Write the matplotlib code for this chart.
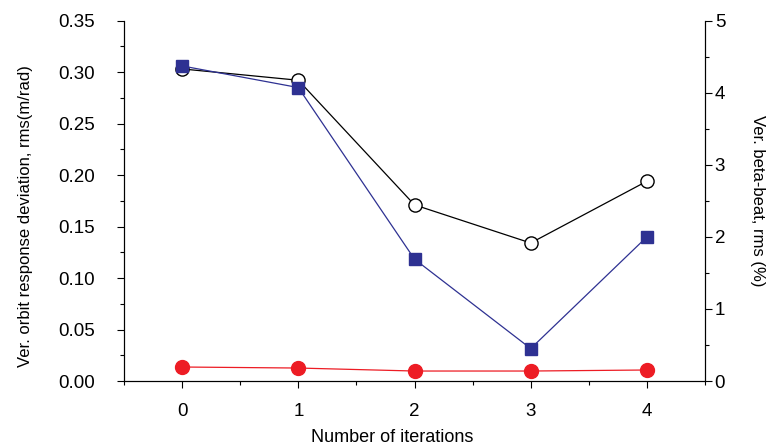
import matplotlib
matplotlib.use("Agg")
import matplotlib.pyplot as plt
from matplotlib.ticker import MultipleLocator

plt.rcParams['font.family'] = ['Liberation Sans', 'DejaVu Sans']

# data
iterations = [0, 1, 2, 3, 4]
orbit_dev = [0.303, 0.292, 0.171, 0.134, 0.194]      # open circles, left axis
other_dev = [0.0136, 0.0126, 0.0097, 0.0097, 0.0107]  # red dots, left axis
beta_beat = [4.37, 4.07, 1.69, 0.45, 2.0]            # blue squares, right axis (%)

fig = plt.figure(figsize=(7.67, 4.46), dpi=100)
ax = fig.add_axes([0.1617, 0.1457, 0.9192 - 0.1617, 0.954 - 0.1457])

ax.plot(iterations, orbit_dev, color="black", linewidth=0.9, marker="o",
        markersize=9.5, markerfacecolor="white", markeredgecolor="black",
        markeredgewidth=1.0, zorder=3)
ax.plot(iterations, other_dev, color="#ED1C24", linewidth=0.9, marker="o",
        markersize=10, markerfacecolor="#ED1C24", markeredgecolor="#ED1C24",
        zorder=3)

ax.set_xlim(-0.5, 4.5)
ax.set_ylim(0, 0.35)
ax.xaxis.set_major_locator(MultipleLocator(1))
ax.xaxis.set_minor_locator(MultipleLocator(0.5))
ax.yaxis.set_major_locator(MultipleLocator(0.05))
ax.yaxis.set_minor_locator(MultipleLocator(0.025))
ax.set_yticklabels([f"{v:.2f}" for v in ax.get_yticks()])
ax.tick_params(which="major", direction="out", length=5, width=0.8, labelsize=13.5)
ax.tick_params(which="minor", direction="out", length=3, width=0.8)
ax.tick_params(axis="y", which="major", pad=16)
ax.tick_params(axis="x", which="major", pad=11)
ax.spines["top"].set_visible(False)
ax.set_xlabel("Number of iterations", fontsize=13, va="center")
ax.xaxis.set_label_coords(0.461, -0.158)
ax.set_ylabel("Ver. orbit response deviation, rms(m/rad)", fontsize=12, va="center")
ax.yaxis.set_label_coords(-0.170, 0.458)

ax2 = ax.twinx()
ax2.plot(iterations, beta_beat, color="#2E3192", linewidth=0.9, marker="s",
         markersize=8.5, markerfacecolor="#2E3192", markeredgecolor="#2E3192",
         zorder=3)
ax2.set_ylim(0, 5)
ax2.yaxis.set_major_locator(MultipleLocator(1))
ax2.yaxis.set_minor_locator(MultipleLocator(0.5))
ax2.tick_params(which="major", direction="out", length=5, width=0.8, labelsize=13.5, pad=2)
ax2.tick_params(which="minor", direction="out", length=3, width=0.8)
ax2.spines["top"].set_visible(False)
ax2.set_ylabel("Ver. beta-beat, rms (%)", fontsize=12, rotation=270,
               va="center", ha="center", rotation_mode="anchor")
ax2.yaxis.set_label_coords(1.0895, 0.5)

fig.savefig("out.png", dpi=100)
